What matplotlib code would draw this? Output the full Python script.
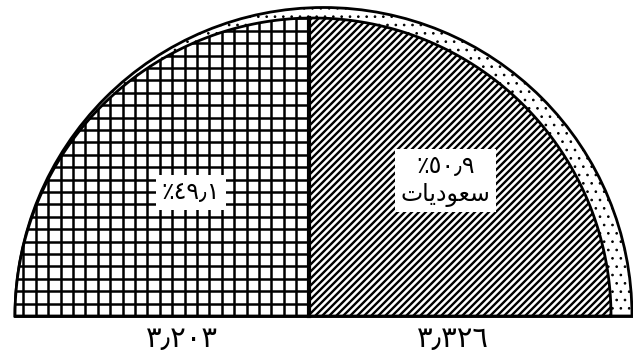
import matplotlib
matplotlib.use('Agg')
import matplotlib.pyplot as plt
from matplotlib.patches import Polygon, Wedge
from matplotlib.collections import LineCollection
import numpy as np

# البيانات
categories = ['', 'سعوديات']
values = [3203, 3326]

AR_DIGITS = str.maketrans('0123456789.,%', '٠١٢٣٤٥٦٧٨٩٫٫٪')


def to_ar(s):
    return s.translate(AR_DIGITS)


def shape_label(s):
    # matplotlib لا يشكل النص العربي: نكتب الأشكال المتصلة بالترتيب المرئي
    forms = {'سعوديات': '\uFE95\uFE8E\uFEF3\uFEA9\uFEEE\uFECC\uFEB3'}
    return forms.get(s, s)


def divider_pos(frac, r=1.0):
    # موضع الخط الرأسي الذي يقسم نصف الدائرة بنسبة frac على اليسار
    lo, hi = -r, r
    for _ in range(60):
        d = (lo + hi) / 2
        area = d / 2 * np.sqrt(r**2 - d**2) + r**2 / 2 * np.arcsin(d / r) + np.pi * r**2 / 4
        if area / (np.pi * r**2 / 2) < frac:
            lo = d
        else:
            hi = d
    return (lo + hi) / 2


total = sum(values)
pcts = [v / total * 100 for v in values]

DPI = 100
PX = 298.0  # بكسل لكل وحدة نصف قطر
fig = plt.figure(figsize=(633 / DPI, 355 / DPI), dpi=DPI)
ax = fig.add_axes([0, 0, 1, 1])
ax.set_xlim(-313 / PX, 320 / PX)
ax.set_ylim(-39 / PX, 316 / PX)
ax.axis('off')

r_in = 1.0
cx_out, r_out = 10.5 / PX, 308.5 / PX

# الحلقة المنقطة الخارجية
plt.rcParams['hatch.linewidth'] = 0.7
ax.add_patch(Wedge((cx_out, 0), r_out, 0, 180, facecolor='white', edgecolor='black',
                   hatch='..', linewidth=2))

d = divider_pos(pcts[0] / 100, r_in)
th_d = np.arccos(d / r_in)

# الجزء الأيسر (شبكة)
th = np.linspace(th_d, np.pi, 200)
left_pts = np.column_stack([r_in * np.cos(th), r_in * np.sin(th)])
left_pts = np.vstack([left_pts, [[d, 0]]])
left = Polygon(left_pts, closed=True, facecolor='white', edgecolor='black', linewidth=2)
ax.add_patch(left)

step = 12.4 / PX
segs = [[(x, 0), (x, 1.1)] for x in np.arange(d, -1.1, -step)]
segs += [[(-1.1, y), (d, y)] for y in np.arange(0, 1.1, step)]
grid = LineCollection(segs, colors='black', linewidths=1.8)
grid.set_clip_path(left)
ax.add_collection(grid)

# الجزء الأيمن (خطوط مائلة)
th = np.linspace(0, th_d, 200)
right_pts = np.column_stack([r_in * np.cos(th), r_in * np.sin(th)])
right_pts = np.vstack([[[d, 0]], right_pts])
right = Polygon(right_pts, closed=True, facecolor='white', edgecolor='black', linewidth=2)
ax.add_patch(right)

step = 7.0 / PX
segs = [[(c, 0), (c + 1.2, 1.2)] for c in np.arange(d - 1.2, 1.1, step)]
diag = LineCollection(segs, colors='black', linewidths=1.7)
diag.set_clip_path(right)
ax.add_collection(diag)

ax.plot([-r_in, cx_out + r_out], [0, 0], color='black', linewidth=2)
ax.plot([d, d], [0, np.sqrt(r_in**2 - d**2)], color='black', linewidth=3)

box = dict(facecolor='white', edgecolor='none', pad=4)

# النسب المئوية داخل الأجزاء
ax.text(-0.41, 0.415, to_ar('%' + f'{pcts[0]:.1f}'), ha='center', va='center',
        fontsize=17, family='DejaVu Sans', bbox=box)
ax.text(0.445, 0.455, to_ar('%' + f'{pcts[1]:.1f}') + '\n' + shape_label(categories[1]),
        ha='center', va='center', fontsize=17, family='DejaVu Sans',
        linespacing=1.2, bbox=box)

# القيم أسفل كل جزء
for x, v in zip([-0.44, 0.47], values):
    ax.text(x, -0.078, to_ar(f'{v:,}'), ha='center', va='center', fontsize=21,
            family='DejaVu Sans')

fig.savefig('out.png', dpi=DPI)
